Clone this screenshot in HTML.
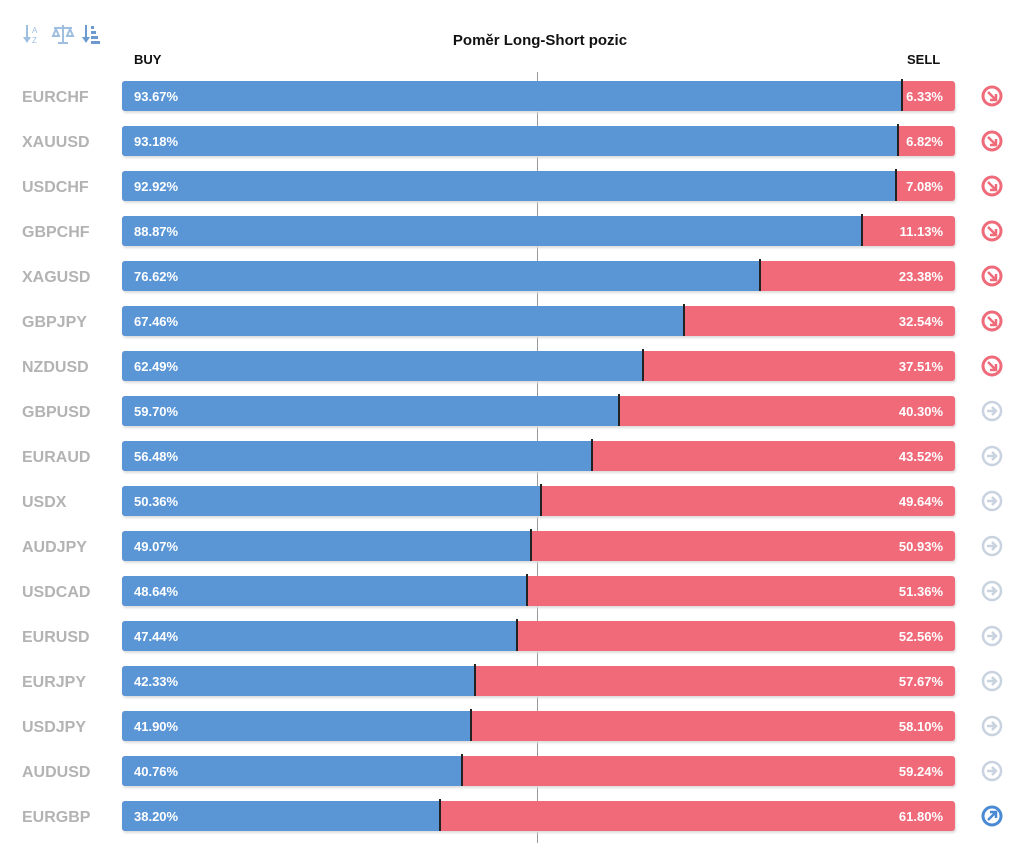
<!DOCTYPE html>
<html><head><meta charset="utf-8"><style>
body{margin:0;width:1025px;height:861px;background:#fff;font-family:"Liberation Sans",sans-serif;position:relative;overflow:hidden}
.t{position:absolute;top:32px;left:0;width:1080px;text-align:center;font-size:15px;font-weight:bold;color:#111}
.h{position:absolute;top:52px;font-size:13px;font-weight:bold;color:#111}
.cl{position:absolute;left:537px;top:72px;width:1px;height:771px;background:#999}
.r{position:absolute;left:0;width:1025px;height:30px}
.n{position:absolute;left:22px;top:8px;font-size:16px;font-weight:bold;color:#b3b3b3}
.b{position:absolute;left:122px;top:0;width:833px;height:30px;background:#f06a7a;border-radius:3px;box-shadow:1px 2px 2px #ddd}
.bl{position:absolute;left:0;top:0;height:30px;background:#5a96d6;border-radius:3px 0 0 3px}
.m{position:absolute;top:-2px;width:2px;height:32px;background:#222;margin-left:-1px}
.p1{position:absolute;left:12px;top:8px;font-size:13px;font-weight:bold;color:#fff}
.p2{position:absolute;right:12px;top:8px;font-size:13px;font-weight:bold;color:#fff}
.i{position:absolute;left:981px;top:4px}
</style></head><body>
<svg style="position:absolute;left:22px;top:22px" width="86" height="26" viewBox="0 0 86 26">
<g fill="#9fbfe0" stroke="none"><rect x="4" y="3" width="2" height="16"/><path d="M1 15 L5 21 L9 15Z"/></g>
<text x="10" y="11" font-size="8" font-family="Liberation Sans" fill="#9fbfe0">A</text><text x="10" y="21" font-size="8" font-family="Liberation Sans" fill="#9fbfe0">Z</text>
<g stroke="#9fbfe0" stroke-width="2" fill="none"><line x1="41" y1="3" x2="41" y2="21"/><line x1="32" y1="6" x2="50" y2="6"/><path d="M31 14 L34 7 L37 14Z M45 14 L48 7 L51 14Z"/><line x1="36" y1="21" x2="46" y2="21"/></g>
<g fill="#6c9ad0"><rect x="63" y="3" width="2" height="16"/><path d="M60 15 L64 21 L68 15Z"/><rect x="69" y="4" width="3" height="3"/><rect x="69" y="9" width="5" height="3"/><rect x="69" y="14" width="7" height="3"/><rect x="69" y="19" width="9" height="3"/></g>
</svg>
<div class="t">Poměr Long-Short pozic</div>
<div class="h" style="left:134px">BUY</div>
<div class="h" style="left:907px">SELL</div>
<div class="cl"></div>

<div class="r" style="top:81px"><div class="n">EURCHF</div><div class="b"><div class="bl" style="width:93.67%"></div><div class="m" style="left:93.67%"></div><div class="p1">93.67%</div><div class="p2">6.33%</div></div><svg class="i" width="22" height="22"><circle cx="11" cy="11" r="9" fill="none" stroke="#ef6b7a" stroke-width="3"/><path d="M7 7 L14 14 M15 9 L15 15 L9 15" stroke="#ef6b7a" stroke-width="2.5" fill="none"/></svg></div>
<div class="r" style="top:126px"><div class="n">XAUUSD</div><div class="b"><div class="bl" style="width:93.18%"></div><div class="m" style="left:93.18%"></div><div class="p1">93.18%</div><div class="p2">6.82%</div></div><svg class="i" width="22" height="22"><circle cx="11" cy="11" r="9" fill="none" stroke="#ef6b7a" stroke-width="3"/><path d="M7 7 L14 14 M15 9 L15 15 L9 15" stroke="#ef6b7a" stroke-width="2.5" fill="none"/></svg></div>
<div class="r" style="top:171px"><div class="n">USDCHF</div><div class="b"><div class="bl" style="width:92.92%"></div><div class="m" style="left:92.92%"></div><div class="p1">92.92%</div><div class="p2">7.08%</div></div><svg class="i" width="22" height="22"><circle cx="11" cy="11" r="9" fill="none" stroke="#ef6b7a" stroke-width="3"/><path d="M7 7 L14 14 M15 9 L15 15 L9 15" stroke="#ef6b7a" stroke-width="2.5" fill="none"/></svg></div>
<div class="r" style="top:216px"><div class="n">GBPCHF</div><div class="b"><div class="bl" style="width:88.87%"></div><div class="m" style="left:88.87%"></div><div class="p1">88.87%</div><div class="p2">11.13%</div></div><svg class="i" width="22" height="22"><circle cx="11" cy="11" r="9" fill="none" stroke="#ef6b7a" stroke-width="3"/><path d="M7 7 L14 14 M15 9 L15 15 L9 15" stroke="#ef6b7a" stroke-width="2.5" fill="none"/></svg></div>
<div class="r" style="top:261px"><div class="n">XAGUSD</div><div class="b"><div class="bl" style="width:76.62%"></div><div class="m" style="left:76.62%"></div><div class="p1">76.62%</div><div class="p2">23.38%</div></div><svg class="i" width="22" height="22"><circle cx="11" cy="11" r="9" fill="none" stroke="#ef6b7a" stroke-width="3"/><path d="M7 7 L14 14 M15 9 L15 15 L9 15" stroke="#ef6b7a" stroke-width="2.5" fill="none"/></svg></div>
<div class="r" style="top:306px"><div class="n">GBPJPY</div><div class="b"><div class="bl" style="width:67.46%"></div><div class="m" style="left:67.46%"></div><div class="p1">67.46%</div><div class="p2">32.54%</div></div><svg class="i" width="22" height="22"><circle cx="11" cy="11" r="9" fill="none" stroke="#ef6b7a" stroke-width="3"/><path d="M7 7 L14 14 M15 9 L15 15 L9 15" stroke="#ef6b7a" stroke-width="2.5" fill="none"/></svg></div>
<div class="r" style="top:351px"><div class="n">NZDUSD</div><div class="b"><div class="bl" style="width:62.49%"></div><div class="m" style="left:62.49%"></div><div class="p1">62.49%</div><div class="p2">37.51%</div></div><svg class="i" width="22" height="22"><circle cx="11" cy="11" r="9" fill="none" stroke="#ef6b7a" stroke-width="3"/><path d="M7 7 L14 14 M15 9 L15 15 L9 15" stroke="#ef6b7a" stroke-width="2.5" fill="none"/></svg></div>
<div class="r" style="top:396px"><div class="n">GBPUSD</div><div class="b"><div class="bl" style="width:59.70%"></div><div class="m" style="left:59.70%"></div><div class="p1">59.70%</div><div class="p2">40.30%</div></div><svg class="i" width="22" height="22"><circle cx="11" cy="11" r="9" fill="none" stroke="#c9d3e0" stroke-width="2.5"/><path d="M6 11 L14 11 M11 7 L15 11 L11 15" stroke="#c9d3e0" stroke-width="2.5" fill="none"/></svg></div>
<div class="r" style="top:441px"><div class="n">EURAUD</div><div class="b"><div class="bl" style="width:56.48%"></div><div class="m" style="left:56.48%"></div><div class="p1">56.48%</div><div class="p2">43.52%</div></div><svg class="i" width="22" height="22"><circle cx="11" cy="11" r="9" fill="none" stroke="#c9d3e0" stroke-width="2.5"/><path d="M6 11 L14 11 M11 7 L15 11 L11 15" stroke="#c9d3e0" stroke-width="2.5" fill="none"/></svg></div>
<div class="r" style="top:486px"><div class="n">USDX</div><div class="b"><div class="bl" style="width:50.36%"></div><div class="m" style="left:50.36%"></div><div class="p1">50.36%</div><div class="p2">49.64%</div></div><svg class="i" width="22" height="22"><circle cx="11" cy="11" r="9" fill="none" stroke="#c9d3e0" stroke-width="2.5"/><path d="M6 11 L14 11 M11 7 L15 11 L11 15" stroke="#c9d3e0" stroke-width="2.5" fill="none"/></svg></div>
<div class="r" style="top:531px"><div class="n">AUDJPY</div><div class="b"><div class="bl" style="width:49.07%"></div><div class="m" style="left:49.07%"></div><div class="p1">49.07%</div><div class="p2">50.93%</div></div><svg class="i" width="22" height="22"><circle cx="11" cy="11" r="9" fill="none" stroke="#c9d3e0" stroke-width="2.5"/><path d="M6 11 L14 11 M11 7 L15 11 L11 15" stroke="#c9d3e0" stroke-width="2.5" fill="none"/></svg></div>
<div class="r" style="top:576px"><div class="n">USDCAD</div><div class="b"><div class="bl" style="width:48.64%"></div><div class="m" style="left:48.64%"></div><div class="p1">48.64%</div><div class="p2">51.36%</div></div><svg class="i" width="22" height="22"><circle cx="11" cy="11" r="9" fill="none" stroke="#c9d3e0" stroke-width="2.5"/><path d="M6 11 L14 11 M11 7 L15 11 L11 15" stroke="#c9d3e0" stroke-width="2.5" fill="none"/></svg></div>
<div class="r" style="top:621px"><div class="n">EURUSD</div><div class="b"><div class="bl" style="width:47.44%"></div><div class="m" style="left:47.44%"></div><div class="p1">47.44%</div><div class="p2">52.56%</div></div><svg class="i" width="22" height="22"><circle cx="11" cy="11" r="9" fill="none" stroke="#c9d3e0" stroke-width="2.5"/><path d="M6 11 L14 11 M11 7 L15 11 L11 15" stroke="#c9d3e0" stroke-width="2.5" fill="none"/></svg></div>
<div class="r" style="top:666px"><div class="n">EURJPY</div><div class="b"><div class="bl" style="width:42.33%"></div><div class="m" style="left:42.33%"></div><div class="p1">42.33%</div><div class="p2">57.67%</div></div><svg class="i" width="22" height="22"><circle cx="11" cy="11" r="9" fill="none" stroke="#c9d3e0" stroke-width="2.5"/><path d="M6 11 L14 11 M11 7 L15 11 L11 15" stroke="#c9d3e0" stroke-width="2.5" fill="none"/></svg></div>
<div class="r" style="top:711px"><div class="n">USDJPY</div><div class="b"><div class="bl" style="width:41.90%"></div><div class="m" style="left:41.90%"></div><div class="p1">41.90%</div><div class="p2">58.10%</div></div><svg class="i" width="22" height="22"><circle cx="11" cy="11" r="9" fill="none" stroke="#c9d3e0" stroke-width="2.5"/><path d="M6 11 L14 11 M11 7 L15 11 L11 15" stroke="#c9d3e0" stroke-width="2.5" fill="none"/></svg></div>
<div class="r" style="top:756px"><div class="n">AUDUSD</div><div class="b"><div class="bl" style="width:40.76%"></div><div class="m" style="left:40.76%"></div><div class="p1">40.76%</div><div class="p2">59.24%</div></div><svg class="i" width="22" height="22"><circle cx="11" cy="11" r="9" fill="none" stroke="#c9d3e0" stroke-width="2.5"/><path d="M6 11 L14 11 M11 7 L15 11 L11 15" stroke="#c9d3e0" stroke-width="2.5" fill="none"/></svg></div>
<div class="r" style="top:801px"><div class="n">EURGBP</div><div class="b"><div class="bl" style="width:38.20%"></div><div class="m" style="left:38.20%"></div><div class="p1">38.20%</div><div class="p2">61.80%</div></div><svg class="i" width="22" height="22"><circle cx="11" cy="11" r="9" fill="none" stroke="#4a8ad4" stroke-width="3"/><path d="M7 15 L14 8 M9 7 L15 7 L15 13" stroke="#4a8ad4" stroke-width="2.5" fill="none"/></svg></div>
</body></html>
